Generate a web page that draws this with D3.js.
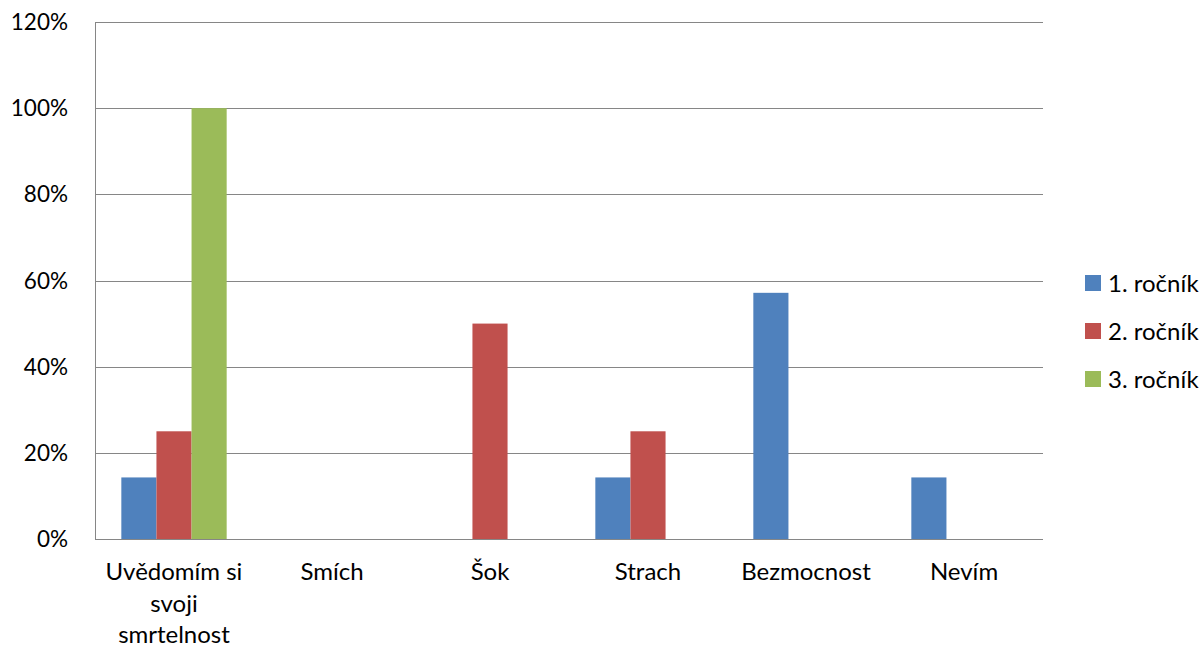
<!DOCTYPE html>
<html>
<head>
<meta charset="utf-8">
<script src="https://cdn.jsdelivr.net/npm/d3@7"></script>
<style>
  html, body { margin: 0; padding: 0; background: #fff; }
  svg text { font-family: Lato, "Open Sans", sans-serif; fill: #000; }
</style>
</head>
<body>
<svg id="chart" width="1203" height="649"></svg>
<script>
// Categories (reactions) and per-year shares in percent
const categories = ["Uvědomím si svoji smrtelnost", "Smích", "Šok", "Strach", "Bezmocnost", "Nevím"];
const seriesNames = ["1. ročník", "2. ročník", "3. ročník"];
const rocnik1 = [14.29, 0, 0, 14.29, 57.14, 14.29];
const rocnik2 = [25, 0, 50, 25, 0, 0];
const rocnik3 = [100, 0, 0, 0, 0, 0];
const yTicks = [0, 20, 40, 60, 80, 100, 120];
const colors = ["#4f81bd", "#c0504d", "#9bbb59"];

const series = [rocnik1, rocnik2, rocnik3];

const svg = d3.select("#chart");
const plotLeft = 95, plotRight = 1043, plotTop = 22, plotBottom = 539;
const labelSize = "24px";
const tickSize = "22.5px";

const x0 = d3.scaleBand().domain(categories).range([plotLeft, plotRight]).paddingInner(0).paddingOuter(0);
// Excel-style gap width of 150%: bar width = band / (3 + 1.5)
const x1 = d3.scaleBand().domain(seriesNames).range([0, x0.bandwidth()]).paddingInner(0).paddingOuter(0.75);
const y = d3.scaleLinear().domain([0, 120]).range([plotBottom, plotTop]);

// Horizontal gridlines
svg.append("g")
  .selectAll("line")
  .data(yTicks)
  .join("line")
  .attr("x1", plotLeft).attr("x2", plotRight)
  .attr("y1", d => Math.round(y(d)) + 0.5).attr("y2", d => Math.round(y(d)) + 0.5)
  .attr("stroke", "#868686").attr("stroke-width", 1);

// Left axis line
svg.append("line")
  .attr("x1", plotLeft + 0.5).attr("x2", plotLeft + 0.5)
  .attr("y1", plotTop).attr("y2", plotBottom)
  .attr("stroke", "#868686");

// Y tick labels
svg.append("g")
  .selectAll("text")
  .data(yTicks)
  .join("text")
  .attr("x", 68).attr("y", d => y(d))
  .attr("dy", "0.36em")
  .attr("text-anchor", "end")
  .style("font-size", tickSize)
  .text(d => d + "%");

// Bars
const groups = svg.append("g")
  .selectAll("g")
  .data(categories)
  .join("g")
  .attr("transform", d => `translate(${x0(d)},0)`);

groups.selectAll("rect")
  .data((d, i) => series.map((s, j) => ({ name: seriesNames[j], value: s[i], color: colors[j] })))
  .join("rect")
  .attr("x", d => x1(d.name))
  .attr("width", x1.bandwidth())
  .attr("y", d => y(d.value))
  .attr("height", d => plotBottom - y(d.value))
  .attr("fill", d => d.color);

// Redraw baseline over bars
svg.append("line")
  .attr("x1", plotLeft).attr("x2", plotRight)
  .attr("y1", plotBottom + 0.5).attr("y2", plotBottom + 0.5)
  .attr("stroke", "#868686");

// Category labels, wrapped onto several lines where long
const wrapped = {
  "Uvědomím si svoji smrtelnost": ["Uvědomím si", "svoji", "smrtelnost"]
};
const xl = svg.append("g")
  .selectAll("text")
  .data(categories)
  .join("text")
  .attr("x", d => x0(d) + x0.bandwidth() / 2)
  .attr("y", 580)
  .attr("text-anchor", "middle")
  .style("font-size", labelSize);
xl.selectAll("tspan")
  .data(d => wrapped[d] || [d])
  .join("tspan")
  .attr("x", function () { return d3.select(this.parentNode).attr("x"); })
  .attr("dy", (d, i) => i === 0 ? 0 : 31.5)
  .text(d => d);

// Legend
const legend = svg.append("g")
  .selectAll("g")
  .data(seriesNames)
  .join("g")
  .attr("transform", (d, i) => `translate(1085, ${283 + i * 48})`);
legend.append("rect")
  .attr("x", 0).attr("y", -8).attr("width", 16).attr("height", 16)
  .attr("fill", (d, i) => colors[i]);
legend.append("text")
  .attr("x", 23).attr("y", 0).attr("dy", "0.36em")
  .style("font-size", labelSize)
  .text(d => d);
</script>
</body>
</html>
